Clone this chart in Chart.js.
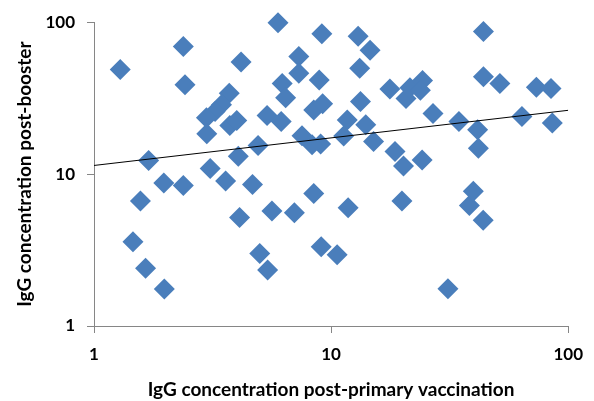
<!DOCTYPE html>
<html>
<head>
<meta charset="utf-8">
<script src="https://cdn.jsdelivr.net/npm/chart.js@4"></script>
<style>
  html, body { margin: 0; padding: 0; background: #fff; }
</style>
</head>
<body>
<canvas id="chart" width="594" height="401"></canvas>
<script>
// IgG post-primary (x) vs post-booster (y)
const primaryIgG = [
  1.29, 2.38, 2.42, 4.17, 3.72, 3.45, 3.24, 2.98, 2.99, 3.74,
  4.0, 4.06, 1.70, 3.09, 1.97, 2.38, 3.59, 4.66, 1.57, 1.46,
  1.65, 1.98, 4.11, 5.63, 7.0, 5.0, 5.4, 8.45, 11.8, 9.08,
  10.6, 19.9, 38.3, 43.8, 39.8, 31.1, 5.97, 9.14, 13.0, 14.6,
  7.31, 7.31, 13.2, 8.91, 6.22, 6.43, 17.7, 20.7, 21.5, 24.3,
  23.8, 8.45, 9.21, 13.3, 5.37, 6.16, 11.7, 14.0, 7.54, 9.03,
  8.31, 11.3, 15.1, 4.92, 18.6, 20.2, 26.9, 34.6, 41.5, 41.8,
  43.9, 43.9, 51.5, 73.4, 84.6, 63.8, 85.7, 24.2
];
const boosterIgG = [
  48.9, 69.2, 38.7, 54.7, 34.0, 28.6, 25.8, 23.5, 18.4, 20.9,
  22.5, 13.1, 12.3, 10.9, 8.75, 8.4, 9.0, 8.55, 6.64, 3.58,
  2.4, 1.75, 5.17, 5.71, 5.57, 3.0, 2.34, 7.44, 6.0, 3.32,
  2.94, 6.64, 6.22, 4.97, 7.72, 1.76, 99.3, 83.8, 80.7, 65.3,
  59.5, 46.2, 49.8, 41.6, 39.5, 31.8, 36.3, 31.4, 37.0, 41.4,
  35.6, 26.4, 29.1, 30.1, 24.3, 22.2, 22.7, 21.1, 17.9, 15.8,
  15.6, 17.8, 16.4, 15.4, 14.1, 11.3, 25.1, 22.2, 19.6, 14.8,
  86.9, 43.7, 39.5, 37.3, 36.6, 23.9, 21.7, 12.4
];

// power trendline end points
const trendX = [1, 100];
const trendY = [11.4, 26.3];

const xTicks = [1, 10, 100];
const yTicks = [1, 10, 100];

const axisGray = "#868686";
const markerBlue = "#4a7ebb";
const tickFont = { family: "Lato", size: 17, weight: "bold" };
const titleFont = { family: "Lato", size: 19, weight: "bold" };

const points = primaryIgG.map((x, i) => ({ x: x, y: boosterIgG[i] }));
const trend = trendX.map((x, i) => ({ x: x, y: trendY[i] }));

new Chart(document.getElementById("chart"), {
  type: "scatter",
  data: {
    datasets: [
      {
        type: "line",
        data: trend,
        borderColor: "#000",
        borderWidth: 1,
        pointRadius: 0,
        fill: false,
        order: 0
      },
      {
        data: points,
        pointStyle: "rectRot",
        pointRadius: 10.5,
        backgroundColor: markerBlue,
        borderColor: markerBlue,
        borderWidth: 0,
        clip: false,
        order: 1
      }
    ]
  },
  options: {
    responsive: false,
    animation: false,
    layout: { padding: { left: 0, right: 23, top: 20, bottom: 0 } },
    plugins: { legend: { display: false }, tooltip: { enabled: false } },
    scales: {
      x: {
        type: "logarithmic",
        min: 1,
        max: 100,
        afterBuildTicks: s => { s.ticks = xTicks.map(v => ({ value: v })); },
        afterFit: s => { s.height = 75; },
        ticks: { color: "#000", font: tickFont, padding: 11, callback: v => String(v) },
        grid: { drawOnChartArea: false, drawTicks: true, tickLength: 7, color: axisGray },
        border: { display: true, color: axisGray },
        title: {
          display: true,
          text: "IgG concentration post-primary vaccination",
          color: "#000",
          font: titleFont,
          padding: { top: 0, bottom: 0 }
        }
      },
      y: {
        type: "logarithmic",
        min: 1,
        max: 100,
        afterBuildTicks: s => { s.ticks = yTicks.map(v => ({ value: v })); },
        afterFit: s => { s.width = 94; },
        ticks: { color: "#000", font: tickFont, padding: 12, callback: v => String(v) },
        grid: { drawOnChartArea: false, drawTicks: true, tickLength: 7, color: axisGray },
        border: { display: true, color: axisGray },
        title: {
          display: true,
          text: "IgG concentration post-booster",
          color: "#000",
          font: titleFont,
          padding: { top: 13.5, bottom: 0 }
        }
      }
    }
  }
});
</script>
</body>
</html>
